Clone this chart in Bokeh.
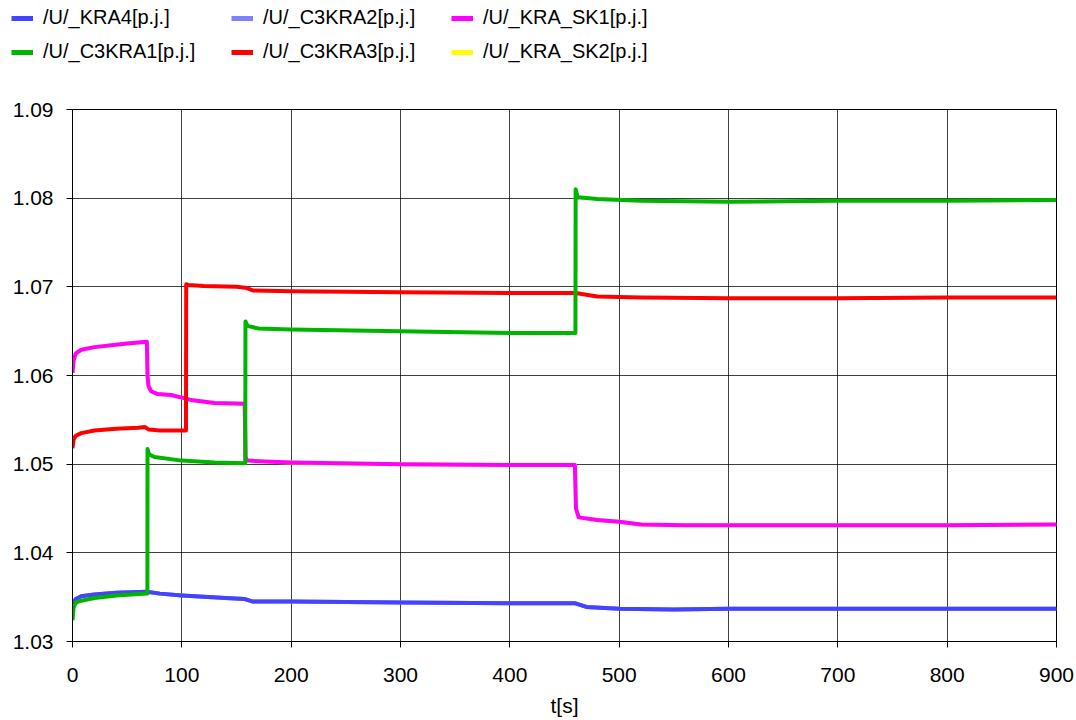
from bokeh.plotting import figure
from bokeh.models import Legend, LegendItem, FixedTicker, PrintfTickFormatter, Range1d
from bokeh.layouts import column
from bokeh.embed import file_html
from bokeh.resources import INLINE

# ---- data ----
t_kra4 = [0, 1, 3, 8, 20, 40, 68, 80, 100, 140, 157, 165, 200, 300, 400, 460, 470, 500, 550, 600, 700, 800, 900]
v_kra4 = [1.0333, 1.0343, 1.0348, 1.0351, 1.0353, 1.0355, 1.0356, 1.0354, 1.0352, 1.0349, 1.0348, 1.0345,
          1.0345, 1.0344, 1.0343, 1.0343, 1.0339, 1.0337, 1.0336, 1.0337, 1.0337, 1.0337, 1.0337]

t_c3kra1 = [0, 1, 3, 8, 20, 40, 68.5, 68.6, 70, 75, 100, 130, 158, 158.2, 160, 170, 200, 300, 400, 460, 460.2,
            462, 480, 520, 600, 700, 800, 900]
v_c3kra1 = [1.0324, 1.0338, 1.0344, 1.0346, 1.0349, 1.0352, 1.0354, 1.0517, 1.0511, 1.0508, 1.0504, 1.0502,
            1.0501, 1.0661, 1.0656, 1.0653, 1.0652, 1.0650, 1.0648, 1.0648, 1.0810, 1.0801, 1.0799, 1.0797,
            1.0796, 1.0797, 1.0797, 1.0798]

# C3KRA2 is not visible: it lies hidden under /U/_KRA4
t_c3kra2 = [0, 1, 3, 8, 20, 40, 68, 80, 100, 140, 157, 165, 200, 300, 400, 460, 470, 500, 550, 600, 700, 800, 900]
v_c3kra2 = [1.0333, 1.0343, 1.0348, 1.0351, 1.0353, 1.0355, 1.0356, 1.0354, 1.0352, 1.0349, 1.0348, 1.0345,
            1.0345, 1.0344, 1.0343, 1.0343, 1.0339, 1.0337, 1.0336, 1.0337, 1.0337, 1.0337, 1.0337]

t_c3kra3 = [0, 1, 3, 8, 20, 40, 60, 66, 70, 80, 103.8, 104, 106, 120, 150, 158, 165, 200, 300, 400, 460, 480,
            520, 600, 700, 800, 900]
v_c3kra3 = [1.0518, 1.0528, 1.0532, 1.0535, 1.0538, 1.0540, 1.0541, 1.0542, 1.0539, 1.0538, 1.0538, 1.0703,
            1.0702, 1.0701, 1.0700, 1.0699, 1.0696, 1.0695, 1.0694, 1.0693, 1.0693, 1.0689, 1.0688, 1.0687,
            1.0687, 1.0688, 1.0688]

t_kra_sk1 = [0, 1, 3, 8, 20, 50, 68, 68.6, 69.5, 72, 78, 90, 100, 110, 130, 157.5, 158.3, 160, 175, 200, 300,
             400, 459.5, 460.5, 463, 480, 500, 520, 560, 600, 700, 800, 900]
v_kra_sk1 = [1.0603, 1.0617, 1.0625, 1.0629, 1.0632, 1.0636, 1.0638, 1.0600, 1.0588, 1.0582, 1.0579, 1.0578,
             1.0575, 1.0572, 1.0569, 1.0568, 1.0508, 1.0504, 1.0503, 1.0502, 1.0500, 1.0499, 1.0499, 1.0450,
             1.0440, 1.0437, 1.0435, 1.0432, 1.0431, 1.0431, 1.0431, 1.0431, 1.0432]

# KRA_SK2 is not visible: it lies hidden under /U/_KRA_SK1
t_kra_sk2 = [0, 1, 3, 8, 20, 50, 68, 68.6, 69.5, 72, 78, 90, 100, 110, 130, 157.5, 158.3, 160, 175, 200, 300,
             400, 459.5, 460.5, 463, 480, 500, 520, 560, 600, 700, 800, 900]
v_kra_sk2 = [1.0603, 1.0617, 1.0625, 1.0629, 1.0632, 1.0636, 1.0638, 1.0600, 1.0588, 1.0582, 1.0579, 1.0578,
             1.0575, 1.0572, 1.0569, 1.0568, 1.0508, 1.0504, 1.0503, 1.0502, 1.0500, 1.0499, 1.0499, 1.0450,
             1.0440, 1.0437, 1.0435, 1.0432, 1.0431, 1.0431, 1.0431, 1.0431, 1.0432]

names = ["/U/_KRA4[p.j.]", "/U/_C3KRA1[p.j.]", "/U/_C3KRA2[p.j.]",
         "/U/_C3KRA3[p.j.]", "/U/_KRA_SK1[p.j.]", "/U/_KRA_SK2[p.j.]"]
colors = ["#4444FF", "#00B400", "#8080FF", "#FF0000", "#FF00FF", "#FFFF00"]

x_ticks = [0, 100, 200, 300, 400, 500, 600, 700, 800, 900]
y_ticks = [1.03, 1.04, 1.05, 1.06, 1.07, 1.08, 1.09]

FONT = "Liberation Sans"

series = {
    names[0]: (t_kra4, v_kra4, colors[0]),
    names[1]: (t_c3kra1, v_c3kra1, colors[1]),
    names[2]: (t_c3kra2, v_c3kra2, colors[2]),
    names[3]: (t_c3kra3, v_c3kra3, colors[3]),
    names[4]: (t_kra_sk1, v_kra_sk1, colors[4]),
    names[5]: (t_kra_sk2, v_kra_sk2, colors[5]),
}
draw_order = [names[2], names[5], names[0], names[4], names[3], names[1]]

# ---------------- main chart ----------------
p = figure(frame_width=984, frame_height=532, output_backend="svg", toolbar_location=None,
           x_range=Range1d(0, 900), y_range=Range1d(1.03, 1.09),
           min_border_left=72, min_border_right=20, min_border_top=29, min_border_bottom=76)
p.background_fill_color = "white"
p.border_fill_color = "white"
p.outline_line_color = "black"
p.outline_line_width = 1

for ax in (p.xaxis[0], p.yaxis[0]):
    ax.axis_line_color = "black"
    ax.major_tick_line_color = "black"
    ax.major_tick_out = 6
    ax.major_tick_in = 0
    ax.minor_tick_out = 0
    ax.minor_tick_in = 0
    ax.major_label_text_font = FONT
    ax.major_label_text_font_size = "21px"
    ax.major_label_text_color = "black"

p.xaxis.ticker = FixedTicker(ticks=x_ticks)
p.yaxis.ticker = FixedTicker(ticks=y_ticks)
p.yaxis.formatter = PrintfTickFormatter(format="%.2f")
p.xaxis.major_label_standoff = 20
p.yaxis.major_label_standoff = 13
p.xaxis.axis_label = "t[s]"
p.xaxis.axis_label_text_font = FONT
p.xaxis.axis_label_text_font_size = "21px"
p.xaxis.axis_label_text_font_style = "normal"
p.xaxis.axis_label_text_color = "black"
p.xaxis.axis_label_standoff = 9

p.xgrid.ticker = FixedTicker(ticks=x_ticks)
p.ygrid.ticker = FixedTicker(ticks=y_ticks)
for g in (p.xgrid[0], p.ygrid[0]):
    g.grid_line_color = "black"
    g.grid_line_alpha = 0.75
    g.grid_line_width = 1

for n in draw_order:
    t, v, c = series[n]
    p.line(t, v, line_color=c, line_width=4, line_join="round")

# ---------------- legend strip (same series, outside its view) ----------------
lg = figure(frame_width=1076, frame_height=80, output_backend="svg", toolbar_location=None,
            x_range=Range1d(2000, 3000), y_range=Range1d(2.0, 3.0),
            x_axis_location=None, y_axis_location=None,
            min_border_left=0, min_border_right=0, min_border_top=0, min_border_bottom=0)
lg.grid.visible = False
lg.outline_line_color = None
lg.background_fill_color = "white"
lg.border_fill_color = "white"
leg_r = {}
for n in names:
    t, v, c = series[n]
    leg_r[n] = lg.line(t, v, line_color=c, line_width=5)

rows = [[names[0], names[2], names[4]], [names[1], names[3], names[5]]]
locs = [(11, 51), (11, 17)]
for row, loc in zip(rows, locs):
    leg = Legend(items=[LegendItem(label=n, renderers=[leg_r[n]]) for n in row],
                 orientation="horizontal", location=loc,
                 glyph_width=22, glyph_height=20, label_height=20, label_width=188,
                 label_standoff=10, spacing=0, padding=0, margin=0,
                 border_line_color=None, background_fill_alpha=0,
                 label_text_font=FONT, label_text_font_size="20px", label_text_color="black")
    lg.add_layout(leg, "center")

layout = column(lg, p, spacing=0)
open("out.html", "w").write(file_html(layout, INLINE))
